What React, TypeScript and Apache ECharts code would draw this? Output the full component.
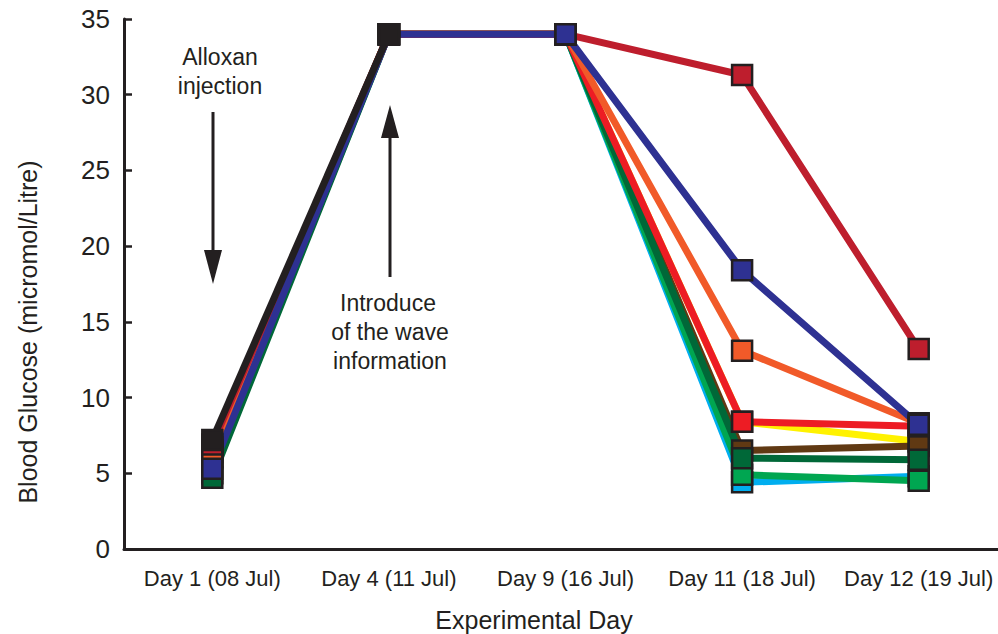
import React, { useEffect, useRef } from "react";
import * as echarts from "echarts";

const categories = ["Day 1 (08 Jul)", "Day 4 (11 Jul)", "Day 9 (16 Jul)", "Day 11 (18 Jul)", "Day 12 (19 Jul)"];
const yTicks = [0, 5, 10, 15, 20, 25, 30, 35];

// bottom-to-top drawing order
const seriesNames = ["Cyan", "Yellow", "Brown", "Green", "Dark green", "Red", "Orange", "Crimson", "Navy", "Black"];
const seriesColors = ["#00aeef", "#fff200", "#603913", "#00a651", "#006838", "#ed1c24", "#f15a29", "#be1e2d", "#2e3192", "#231f20"];
const cyanValues = [5.0, 34, 34, 4.4, 4.8];
const yellowValues = [6.5, 34, 34, 8.4, 7.1];
const brownValues = [6.7, 34, 34, 6.5, 6.8];
const greenValues = [6.1, 34, 34, 4.9, 4.5];
const darkGreenValues = [4.7, 34, 34, 6.0, 5.9];
const redValues = [6.0, 34, 34, 8.4, 8.1];
const orangeValues = [6.4, 34, 34, 13.1, 8.3];
const crimsonValues = [6.9, 34, 34, 31.3, 13.2];
const navyValues = [5.3, 34, 34, 18.4, 8.2];
const blackValues = [7.2, 34, null, null, null];
const allValues = [cyanValues, yellowValues, brownValues, greenValues, darkGreenValues, redValues, orangeValues, crimsonValues, navyValues, blackValues];

const FONT = "'Liberation Sans', Arial, sans-serif";
const INK = "#231f20";

export default function App() {
  const ref = useRef<HTMLDivElement>(null);
  useEffect(() => {
    if (!ref.current) return;
    const chart = echarts.init(ref.current, undefined, { renderer: "svg" });
    const series = allValues.map((vals, i) => ({
      name: seriesNames[i],
      type: "line",
      data: vals,
      symbol: "rect",
      symbolSize: 20,
      showSymbol: true,
      connectNulls: false,
      lineStyle: { color: seriesColors[i], width: 7 },
      itemStyle: { color: seriesColors[i], borderColor: INK, borderWidth: 2.5 },
      emphasis: { disabled: true },
    }));
    chart.setOption({
      animation: false,
      grid: { left: 124, top: 19, height: 530, width: 883, containLabel: false, outerBoundsMode: "none" },
      xAxis: {
        type: "category",
        data: categories,
        boundaryGap: true,
        axisLine: { lineStyle: { color: INK, width: 3 } },
        axisTick: { alignWithLabel: true, inside: true, length: 8, lineStyle: { color: INK, width: 2.5 } },
        axisLabel: { color: INK, fontSize: 22, fontFamily: FONT, margin: 18, interval: 0 },
      },
      yAxis: {
        type: "value",
        min: 0,
        max: 35,
        interval: 5,
        splitLine: { show: false },
        axisLine: { show: true, lineStyle: { color: INK, width: 3 } },
        axisTick: { show: true, inside: true, length: 8, lineStyle: { color: INK, width: 2.5 } },
        axisLabel: {
          color: INK,
          fontSize: 26,
          fontFamily: FONT,
          margin: 14,
          formatter: (v: number) => (yTicks.includes(v) ? String(v) : ""),
        },
      },
      series,
      graphic: [
        { type: "text", x: 28, y: 332, rotation: Math.PI / 2, style: { text: "Blood Glucose (micromol/Litre)", fill: INK, font: `25px ${FONT}`, align: "center", verticalAlign: "middle" } },
        { type: "text", x: 534, y: 620, style: { text: "Experimental Day", fill: INK, font: `25px ${FONT}`, align: "center", verticalAlign: "middle" } },
        { type: "text", x: 220, y: 57, style: { text: "Alloxan", fill: INK, font: `23px ${FONT}`, align: "center", verticalAlign: "middle" } },
        { type: "text", x: 220, y: 86, style: { text: "injection", fill: INK, font: `23px ${FONT}`, align: "center", verticalAlign: "middle" } },
        { type: "line", shape: { x1: 213, y1: 112, x2: 213, y2: 255 }, style: { stroke: INK, lineWidth: 3 } },
        { type: "polygon", shape: { points: [[204, 250], [222, 250], [213, 284]] }, style: { fill: INK } },
        { type: "line", shape: { x1: 390, y1: 277, x2: 390, y2: 133 }, style: { stroke: INK, lineWidth: 3 } },
        { type: "polygon", shape: { points: [[381, 138], [399, 138], [390, 105]] }, style: { fill: INK } },
        { type: "text", x: 388, y: 303, style: { text: "Introduce", fill: INK, font: `23px ${FONT}`, align: "center", verticalAlign: "middle" } },
        { type: "text", x: 390, y: 332, style: { text: "of the wave", fill: INK, font: `23px ${FONT}`, align: "center", verticalAlign: "middle" } },
        { type: "text", x: 390, y: 361, style: { text: "information", fill: INK, font: `23px ${FONT}`, align: "center", verticalAlign: "middle" } },
      ],
    });
    return () => chart.dispose();
  }, []);
  return <div ref={ref} style={{ position: "fixed", left: 0, top: 0, width: 998, height: 634, background: "#fff" }} />;
}
